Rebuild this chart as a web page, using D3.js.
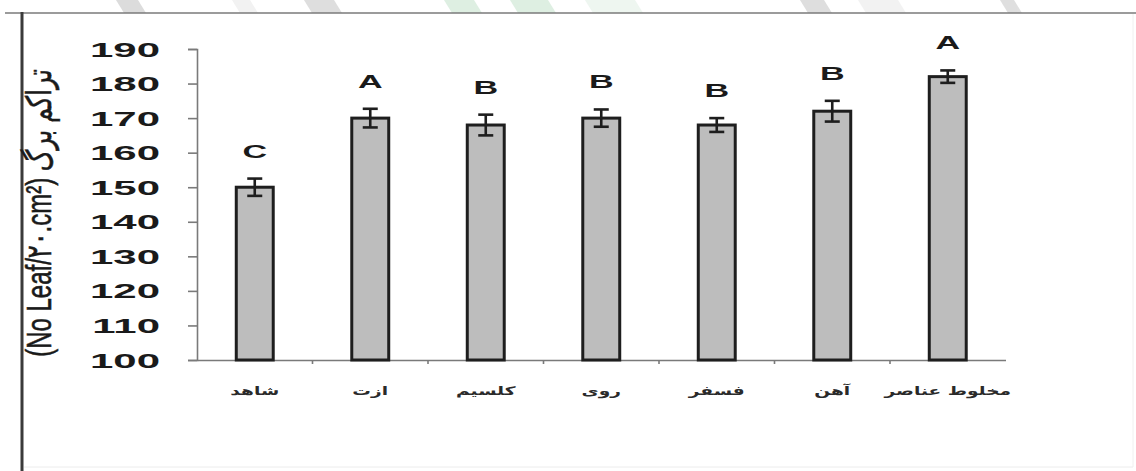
<!DOCTYPE html>
<html>
<head>
<meta charset="utf-8">
<script src="https://cdn.jsdelivr.net/npm/d3@7"></script>
<style>
  html, body { margin: 0; padding: 0; background: #fff; }
  svg { display: block; }
</style>
</head>
<body>
<svg id="chart" width="1136" height="471"></svg>
<script>
// Leaf accumulation per treatment (number of leaves per 20 cm²)
const categories = ["شاهد", "ازت", "کلسیم", "روی", "فسفر", "آهن", "مخلوط عناصر"];
const values = [150, 170, 168, 170, 168, 172, 182];
const errors = [2.5, 2.7, 3, 2.5, 2, 3, 1.8];
const groups = ["C", "A", "B", "B", "B", "B", "A"];
const yTicks = [100, 110, 120, 130, 140, 150, 160, 170, 180, 190];
const yTitle = "(No Leaf/۲۰.cm²) تراکم برگ";

const svg = d3.select("#chart");
const W = 1136, H = 471;

// faint logo strokes showing above the top rule
const logo = svg.append("g").attr("opacity", 0.8);
const strokes = [
  { x: 116, w: 22, c: "#d4d4d4" }, { x: 232, w: 18, c: "#efefef" },
  { x: 304, w: 30, c: "#d6d6d6" }, { x: 444, w: 30, c: "#d6ecdc" },
  { x: 510, w: 38, c: "#d6ecdc" }, { x: 585, w: 50, c: "#eaf4ed" },
  { x: 800, w: 24, c: "#d6d6d6" }, { x: 858, w: 40, c: "#f0f0f0" },
  { x: 1000, w: 14, c: "#d8d8d8" }
];
logo.selectAll("path").data(strokes).join("path")
  .attr("d", d => `M${d.x},0 L${d.x + d.w},0 L${d.x + d.w + 8},13 L${d.x + 8},13 Z`)
  .attr("fill", d => d.c);

// frame
svg.append("line").attr("x1", 5).attr("x2", W).attr("y1", 13).attr("y2", 13)
  .attr("stroke", "#7a7a7a").attr("stroke-width", 1.6);
svg.append("line").attr("x1", 22).attr("x2", 22).attr("y1", 12).attr("y2", H)
  .attr("stroke", "#3a3a3a").attr("stroke-width", 3);
svg.append("line").attr("x1", 24).attr("x2", 1133).attr("y1", 467).attr("y2", 467)
  .attr("stroke", "#ececec").attr("stroke-width", 1);
svg.append("line").attr("x1", 1133).attr("x2", 1133).attr("y1", 14).attr("y2", 467)
  .attr("stroke", "#f0f0f0").attr("stroke-width", 1);

const plot = { left: 197, right: 1005.5, top: 49, bottom: 360 };

const x = d3.scaleBand().domain(categories).range([plot.left, plot.right]).padding(0);
const y = d3.scaleLinear().domain([100, 190]).range([plot.bottom, plot.top]);
const barW = x.step() * 0.32;
const capW = x.step() * 0.13;

// y axis
const yAxis = svg.append("g").attr("transform", `translate(${plot.left},0)`)
  .call(d3.axisLeft(y).tickValues(yTicks).tickSize(9).tickPadding(0).tickFormat(d3.format("d")));
yAxis.select(".domain").attr("stroke", "#7a7a7a").attr("stroke-width", 1.6);
yAxis.selectAll(".tick line").attr("stroke", "#7a7a7a").attr("stroke-width", 1.6);
yAxis.selectAll(".tick text")
  .attr("x", null).attr("dy", null)
  .attr("text-anchor", "end")
  .attr("font-family", "Liberation Sans, Arial, sans-serif")
  .attr("font-weight", "bold")
  .attr("font-size", 20)
  .attr("fill", "#1a1a1a")
  .attr("transform", "translate(-37,7) scale(2.1,1)");

// x axis
const xAxis = svg.append("g").attr("transform", `translate(0,${plot.bottom})`)
  .call(d3.axisBottom(x).tickSize(0).tickPadding(0));
xAxis.select(".domain").attr("stroke", "#7a7a7a").attr("stroke-width", 1.6);
xAxis.selectAll(".tick text").remove();
// small marks between categories
xAxis.selectAll("line.sep").data(categories.slice(1)).join("line")
  .attr("class", "sep")
  .attr("x1", d => x(d)).attr("x2", d => x(d))
  .attr("y1", 0).attr("y2", 4)
  .attr("stroke", "#7a7a7a").attr("stroke-width", 1.6);

// category names
svg.append("g").selectAll("text").data(categories).join("text")
  .attr("transform", d => `translate(${x(d) + x.step() / 2},395) scale(1.55,1)`)
  .attr("text-anchor", "middle")
  .attr("font-family", "DejaVu Sans, sans-serif")
  .attr("font-weight", "bold")
  .attr("font-size", 12)
  .attr("fill", "#2a2a2a")
  .text(d => d);

// bars
const cx = i => x(categories[i]) + x.step() / 2;
svg.append("g").selectAll("rect").data(values).join("rect")
  .attr("x", (d, i) => cx(i) - barW / 2)
  .attr("y", d => y(d))
  .attr("width", barW)
  .attr("height", d => y(100) - y(d))
  .attr("fill", "#bdbdbd")
  .attr("stroke", "#1e1e1e")
  .attr("stroke-width", 3);

// error bars
const eb = svg.append("g").attr("stroke", "#1e1e1e").attr("stroke-width", 2.6);
values.forEach((v, i) => {
  const c = cx(i), hi = y(v + errors[i]), lo = y(v - errors[i]);
  eb.append("line").attr("x1", c).attr("x2", c).attr("y1", hi).attr("y2", lo);
  eb.append("line").attr("x1", c - capW / 2).attr("x2", c + capW / 2).attr("y1", hi).attr("y2", hi);
  eb.append("line").attr("x1", c - capW / 2).attr("x2", c + capW / 2).attr("y1", lo).attr("y2", lo);
});

// significance letters
svg.append("g").selectAll("text").data(groups).join("text")
  .attr("transform", (d, i) => `translate(${cx(i)},${y(values[i] + errors[i]) - 21}) scale(1.9,1)`)
  .attr("text-anchor", "middle")
  .attr("font-family", "Liberation Sans, Arial, sans-serif")
  .attr("font-weight", "bold")
  .attr("font-size", 18)
  .attr("fill", "#1a1a1a")
  .text(d => d);

// y title
svg.append("text")
  .attr("transform", "translate(51,213) scale(1.45,1) rotate(-90)")
  .attr("text-anchor", "middle")
  .attr("font-family", "Liberation Sans, DejaVu Sans, sans-serif")
  .attr("font-size", 24)
  .attr("fill", "#1a1a1a")
  .attr("stroke", "#1a1a1a")
  .attr("stroke-width", 0.4)
  .text(yTitle);
</script>
</body>
</html>
